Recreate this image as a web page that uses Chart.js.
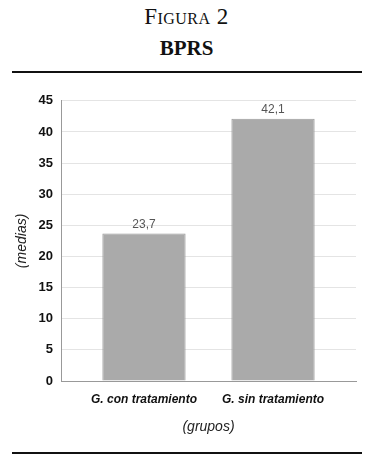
<!DOCTYPE html>
<html>
<head>
<meta charset="utf-8">
<script src="https://cdn.jsdelivr.net/npm/chart.js@4"></script>
<style>
  html, body { margin:0; padding:0; background:#fff; }
  body { width:373px; height:472px; position:relative; overflow:hidden; }
  .fig { position:absolute; left:0; width:373px; text-align:center; font-family:'Liberation Serif','DejaVu Serif',serif; color:#111; }
  .fig1 { top:4px; font-size:23px; font-variant:small-caps; letter-spacing:0.5px; }
  .fig2 { top:36px; font-size:21px; font-weight:bold; }
  .rule { position:absolute; left:12px; width:350px; height:2px; background:#111; }
  #wrap { position:absolute; left:0; top:85px; width:373px; height:360px; }
</style>
</head>
<body>
<div class="fig fig1">Figura 2</div>
<div class="fig fig2">BPRS</div>
<div class="rule" style="top:71px"></div>
<div id="wrap"><canvas id="chart"></canvas></div>
<div class="rule" style="top:452px"></div>
<script>
const categories = ['G. con tratamiento', 'G. sin tratamiento'];
const values = [23.7, 42.1];
const valueLabels = ['23,7', '42,1'];
const yTicks = [0, 5, 10, 15, 20, 25, 30, 35, 40, 45];

const SANS = "'Liberation Sans Narrow','Liberation Sans',Arial,sans-serif";

// etiquetas de valor encima de cada barra
const valueLabelPlugin = {
  id: 'valueLabels',
  afterDatasetsDraw(chart) {
    const ctx = chart.ctx;
    const meta = chart.getDatasetMeta(0);
    ctx.save();
    ctx.font = '12px ' + SANS;
    ctx.fillStyle = '#555';
    ctx.textAlign = 'center';
    ctx.textBaseline = 'bottom';
    meta.data.forEach((bar, i) => ctx.fillText(valueLabels[i], bar.x, bar.y - 3));
    ctx.restore();
  }
};

new Chart(document.getElementById('chart'), {
  type: 'bar',
  data: {
    datasets: [{
      data: categories.map((c, i) => ({ x: i + 1, y: values[i] })),
      backgroundColor: '#aaaaaa',
      borderColor: '#999999',
      borderWidth: 1,
      barPercentage: 1,
      categoryPercentage: 0.645
    }]
  },
  options: {
    responsive: true, maintainAspectRatio: false, animation: false,
    layout: { padding: { left: 10, right: 17, top: 15, bottom: 0 } },
    plugins: { legend: { display: false }, tooltip: { enabled: false } },
    scales: {
      x: {
        type: 'linear', min: 0.357, max: 2.643, offset: false,
        afterBuildTicks: s => { s.ticks = categories.map((c, i) => ({ value: i + 1 })); },
        afterFit: s => { s.height = 64; },
        grid: { display: false, offset: false },
        border: { display: true, color: '#999', width: 1 },
        ticks: {
          callback: v => categories[v - 1] || '',
          color: '#111', padding: 3, maxRotation: 0,
          font: { family: SANS, size: 12, weight: 'bold', style: 'italic' }
        },
        title: { display: true, text: '(grupos)', color: '#222', padding: { top: 5, bottom: 9 },
          font: { family: SANS, size: 14, style: 'italic' } }
      },
      y: {
        min: 0, max: 45,
        afterBuildTicks: s => { s.ticks = yTicks.map(v => ({ value: v })); },
        afterFit: s => { s.width = 51; },
        grid: { color: '#e4e4e4', tickLength: 0 },
        border: { display: true, color: '#999', width: 1 },
        ticks: { color: '#111', padding: 8, font: { family: SANS, size: 13, weight: 'bold' } },
        title: { display: true, text: '(medias)', color: '#222', padding: { bottom: 0 },
          font: { family: SANS, size: 14, style: 'italic' } }
      }
    }
  },
  plugins: [valueLabelPlugin]
});
</script>
</body>
</html>
